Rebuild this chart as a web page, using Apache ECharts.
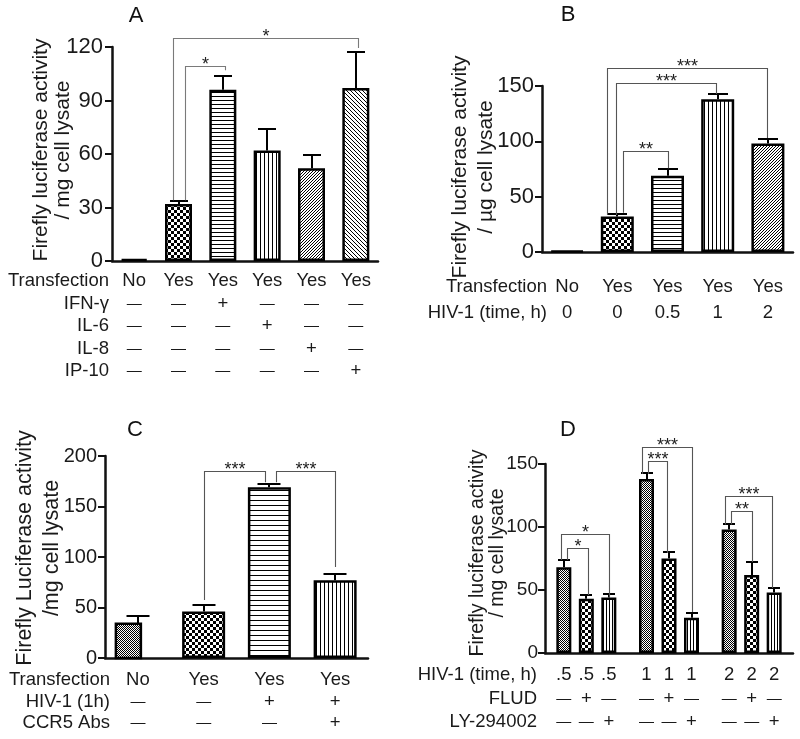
<!DOCTYPE html>
<html><head><meta charset="utf-8">
<script src="https://cdn.jsdelivr.net/npm/echarts@6/dist/echarts.min.js"></script>
<style>html,body{margin:0;padding:0;background:#fff}#c{width:800px;height:739px}</style>
</head><body><div id="c"></div>
<script>
// ---------------- Panel A ----------------
const catsA = ['No', 'Yes', 'Yes', 'Yes', 'Yes', 'Yes'];          // Transfection row
const valuesA = [1, 32, 96, 62, 52, 97];
const errorsA = [0, 1.7, 8, 12, 7.5, 20];
const ticksA = [0, 30, 60, 90, 120];
const rowLabelsA = ['Transfection', 'IFN-γ', 'IL-6', 'IL-8', 'IP-10'];
const ifnA  = ['—', '—', '+', '—', '—', '—'];
const il6A  = ['—', '—', '—', '+', '—', '—'];
const il8A  = ['—', '—', '—', '—', '+', '—'];
const ip10A = ['—', '—', '—', '—', '—', '+'];
// [fromCat, toCat, topValue, fromBottomValue, toBottomValue, label]
const bracketsA = [[1, 5, 125, 34, 119.5, '*'], [1, 2, 109.4, 34, 107, '*']];
const yTitleA = ['Firefly luciferase activity', '/ mg cell lysate'];

// ---------------- Panel B ----------------
const catsB = ['No', 'Yes', 'Yes', 'Yes', 'Yes'];
const hivTimeB = ['0', '0', '0.5', '1', '2'];
const valuesB = [1, 32, 69, 138, 98];
const errorsB = [0, 2, 6, 4.5, 4.5];
const ticksB = [0, 50, 100, 150];
const rowLabelsB = ['Transfection', 'HIV-1 (time, h)'];
const bracketsB = [[1, 4, 166, 33.4, 103, '***'], [1, 3, 152.7, 33.4, 142.8, '***'], [1, 2, 91.5, 35.5, 75.6, '**']];
const yTitleB = ['Firefly luciferase activity', '/ µg cell lysate'];

// ---------------- Panel C ----------------
const catsC = ['No', 'Yes', 'Yes', 'Yes'];
const hivC  = ['—', '—', '+', '+'];
const ccr5C = ['—', '—', '—', '+'];
const valuesC = [34, 46, 169, 77];
const errorsC = [8, 6, 3, 6];
const ticksC = [0, 50, 100, 150, 200];
const rowLabelsC = ['Transfection', 'HIV-1 (1h)', 'CCR5 Abs'];
const bracketsC = [[1, 2, 185, 57.4, 174, '***'], [2, 3, 185, 174, 90, '***']];
const yTitleC = ['Firefly Luciferase activity', '/mg cell lysate'];

// ---------------- Panel D ----------------
const groupsD = ['.5', '1', '2'];
const hivD  = ['.5', '.5', '.5', '1', '1', '1', '2', '2', '2'];
const fludD = ['—', '+', '—', '—', '+', '—', '—', '+', '—'];
const lyD   = ['—', '—', '+', '—', '—', '+', '—', '—', '+'];
const valuesCtrlD = [68, 138, 98];
const errorsCtrlD = [6, 4.5, 4];
const valuesFludD = [43, 75, 62];
const errorsFludD = [3, 5, 10];
const valuesLyD = [44, 28, 48];
const errorsLyD = [2.5, 3.7, 3.5];
const ticksD = [0, 50, 100, 150];
const rowLabelsD = ['HIV-1 (time, h)', 'FLUD', 'LY-294002'];
// [group, fromSlot, toSlot, topValue, fromBottomValue, toBottomValue, label]
const bracketsD = [[0, 0, 2, 94.4, 73.8, 44.4, '*'], [0, 0, 1, 83.3, 73.8, 46, '*'],
                   [1, 0, 2, 163.5, 142, 32.5, '***'], [1, 0, 1, 152.4, 142, 79.4, '***'],
                   [2, 0, 2, 124.6, 102, 51.6, '***'], [2, 0, 1, 112.7, 102, 72.2, '**']];
const yTitleD = ['Firefly luciferase activity', '/ mg cell lysate'];

// ---------------- styling helpers ----------------
const FONT = '"Liberation Sans", Arial, Helvetica, sans-serif';
function makeTile(w, h, fn) {
  const c = document.createElement('canvas'); c.width = w; c.height = h;
  const ctx = c.getContext('2d'); ctx.fillStyle = '#fff'; ctx.fillRect(0, 0, w, h); ctx.fillStyle = '#000';
  for (let y = 0; y < h; y++) for (let x = 0; x < w; x++) if (fn(x, y)) ctx.fillRect(x, y, 1, 1);
  return { image: c, repeat: 'repeat' };
}
const PAT = {
  checker: makeTile(6, 6, (x, y) => ((x < 3) === (y < 3))),
  fine: makeTile(2, 2, (x, y) => (x + y) % 2 === 0),
  h4: makeTile(4, 4, (x, y) => y === 0),
  h5: makeTile(5, 5, (x, y) => y === 0),
  v4: makeTile(4, 4, (x, y) => x === 0),
  v3: makeTile(3, 3, (x, y) => x === 0),
  up3: makeTile(3, 3, (x, y) => (x + y) % 3 === 0),
  down4: makeTile(4, 4, (x, y) => ((x - y) % 4 + 4) % 4 === 0)
};

const norm3 = b => ({ fc: b[0], fs: 1, tc: b[1], ts: 1, top: b[2], fb: b[3], tb: b[4], label: b[5] });
const normD = b => ({ fc: b[0], fs: b[1], tc: b[0], ts: b[2], top: b[3], fb: b[4], tb: b[5], label: b[6] });

const panels = [
  { grid: { left: 112, top: 47, width: 266, height: 214 }, cats: catsA, ticks: ticksA, tickFont: 22, margin: 9,
    bars: [{ values: valuesA, errors: errorsA, patterns: ['#fff', PAT.checker, PAT.h4, PAT.v4, PAT.up3, PAT.down4] }],
    barWidth: 27, capW: 18, slotSpacing: 0,
    brackets: bracketsA.map(norm3), legDx: [[-6, 2], [6, 2]], bracketColor: '#7a7a7a',
    rows: [catsA, ifnA, il6A, il8A, ip10A], rowLabels: rowLabelsA, rowStart: 20, rowH: 22.5, rowLabelDx: -3,
    colCat: c => c, colSlot: () => 1,
    yTitle: yTitleA, yTitleX: [41, 63], yTitleY: 150, yTitleFont: 21, letter: 'A', letterPos: [136, 16] },
  { grid: { left: 542, top: 86, width: 251, height: 166 }, cats: catsB, ticks: ticksB, tickFont: 22, margin: 8,
    bars: [{ values: valuesB, errors: errorsB, patterns: ['#fff', PAT.checker, PAT.h4, PAT.v4, PAT.up3] }],
    barWidth: 33, capW: 20, slotSpacing: 0,
    brackets: bracketsB.map(norm3), legDx: [[-10, -1], [-1, -2], [6, 0]], bracketColor: '#555',
    rows: [catsB, hivTimeB], rowLabels: rowLabelsB, rowStart: 35, rowH: 26, rowLabelDx: 5,
    colCat: c => c, colSlot: () => 1,
    yTitle: yTitleB, yTitleX: [460, 486], yTitleY: 167, yTitleFont: 21, letter: 'B', letterPos: [568, 15] },
  { grid: { left: 105, top: 456, width: 263, height: 202 }, cats: catsC, ticks: ticksC, tickFont: 20, margin: 8,
    bars: [{ values: valuesC, errors: errorsC, patterns: [PAT.fine, PAT.checker, PAT.h5, PAT.v4], customFirst: { w: 25, dx: -9.5 } }],
    barWidth: 43, capW: 23, slotSpacing: 0,
    brackets: bracketsC.map(norm3), legDx: [[0, -4], [7, 0]], bracketColor: '#555',
    rows: [catsC, hivC, ccr5C], rowLabels: rowLabelsC, rowStart: 22, rowH: 21.5, rowLabelDx: 5,
    colCat: c => c, colSlot: () => 1,
    yTitle: yTitleC, yTitleX: [25, 52], yTitleY: 548, yTitleFont: 21.5, letter: 'C', letterPos: [135, 430] },
  { grid: { left: 545, top: 464, width: 248, height: 189 }, cats: groupsD, ticks: ticksD, tickFont: 19, margin: 7,
    bars: [{ values: valuesCtrlD, errors: errorsCtrlD, patterns: [PAT.fine, PAT.fine, PAT.fine] },
           { values: valuesFludD, errors: errorsFludD, patterns: [PAT.checker, PAT.checker, PAT.checker] },
           { values: valuesLyD, errors: errorsLyD, patterns: [PAT.v3, PAT.v3, PAT.v3] }],
    barWidth: 15, barGap: '50%', capW: 12, slotSpacing: 22.5,
    brackets: bracketsD.map(normD), legDx: [[-3, 0], [3, 2], [-5, 0], [1, -2], [-4, -2], [2, 0]], bracketColor: '#555',
    rows: [hivD, fludD, lyD], rowLabels: rowLabelsD, rowStart: 22, rowH: 23.5, rowLabelDx: -8,
    colCat: c => Math.floor(c / 3), colSlot: c => c % 3,
    yTitle: yTitleD, yTitleX: [478, 498], yTitleY: 553, yTitleFont: 19.5, letter: 'D', letterPos: [568, 430] }
];

const option = { animation: false, backgroundColor: '#fff', grid: [], xAxis: [], yAxis: [], series: [], graphic: [] };

panels.forEach((p, pi) => {
  const slotDx = s => (s - 1) * p.slotSpacing;
  option.grid.push(Object.assign({ containLabel: false, outerBoundsMode: 'none' }, p.grid));
  option.xAxis.push({ gridIndex: pi, type: 'category', data: p.cats,
    axisLine: { show: true, lineStyle: { color: '#111', width: 2.5 } },
    axisTick: { show: false }, axisLabel: { show: false }, splitLine: { show: false } });
  option.yAxis.push({ gridIndex: pi, type: 'value', min: p.ticks[0], max: p.ticks[p.ticks.length - 1],
    interval: p.ticks[1] - p.ticks[0],
    axisLine: { show: true, onZero: false, lineStyle: { color: '#111', width: 2.5 } },
    axisTick: { show: true, length: 7, lineStyle: { color: '#111', width: 2 } },
    axisLabel: { fontSize: p.tickFont, fontFamily: FONT, color: '#1a1a1a', margin: p.margin },
    splitLine: { show: false } });

  p.bars.forEach((b, si) => {
    const slot = p.bars.length === 1 ? 1 : si;
    const dx = slotDx(slot);
    option.series.push({ type: 'bar', xAxisIndex: pi, yAxisIndex: pi, barWidth: p.barWidth,
      barGap: p.barGap || '30%', silent: true, z: 2,
      itemStyle: { borderColor: '#000', borderWidth: 2.5 },
      data: b.values.map((v, i) => (b.customFirst && i === 0) ? '-' : { value: v, itemStyle: { color: b.patterns[i] } }) });
    if (b.customFirst) {
      const cf = b.customFirst;
      option.series.push({ type: 'custom', xAxisIndex: pi, yAxisIndex: pi, silent: true, z: 2,
        data: [[0, b.values[0]]],
        renderItem: (params, api) => {
          const top = api.coord([api.value(0), api.value(1)]);
          const base = api.coord([api.value(0), 0]);
          return { type: 'rect', shape: { x: top[0] + cf.dx - cf.w / 2, y: top[1], width: cf.w, height: base[1] - top[1] },
            style: { fill: b.patterns[0], stroke: '#000', lineWidth: 2.5 } };
        } });
    }
    option.series.push({ type: 'custom', xAxisIndex: pi, yAxisIndex: pi, silent: true, z: 3,
      data: b.values.map((v, i) => [i, v, b.errors[i]]),
      renderItem: (params, api) => {
        const i = api.value(0), v = api.value(1), e = api.value(2);
        if (!e) return null;
        const x = Math.round(api.coord([i, 0])[0] + dx);
        const y0 = api.coord([i, v])[1], y1 = Math.round(api.coord([i, v + e])[1]);
        return { type: 'group', children: [
          { type: 'line', shape: { x1: x, y1: y0, x2: x, y2: y1 }, style: { stroke: '#000', lineWidth: 2 } },
          { type: 'line', shape: { x1: x - p.capW / 2, y1: y1, x2: x + p.capW / 2, y2: y1 }, style: { stroke: '#000', lineWidth: 2 } }
        ] };
      } });
  });

  // significance brackets
  option.series.push({ type: 'custom', xAxisIndex: pi, yAxisIndex: pi, silent: true, z: 4,
    data: p.brackets.map(b => [b.fc, b.top]),
    renderItem: (params, api) => {
      const b = p.brackets[params.dataIndex], off = p.legDx[params.dataIndex];
      const xf = Math.round(api.coord([b.fc, 0])[0] + slotDx(b.fs) + off[0]) + 0.5;
      const xt = Math.round(api.coord([b.tc, 0])[0] + slotDx(b.ts) + off[1]) + 0.5;
      const yt = Math.round(api.coord([0, b.top])[1]) + 0.5;
      const yf = api.coord([0, b.fb])[1], ytb = api.coord([0, b.tb])[1];
      return { type: 'group', children: [
        { type: 'polyline', shape: { points: [[xf, yf], [xf, yt], [xt, yt], [xt, ytb]] },
          style: { stroke: p.bracketColor, lineWidth: 1.1, fill: null } },
        { type: 'text', x: (xf + xt) / 2, y: yt - 1,
          style: { text: b.label, fontSize: 18, fontFamily: FONT, fill: '#222', align: 'center', verticalAlign: 'middle' } }
      ] };
    } });

  // condition table under the axis
  const cells = [];
  p.rows.forEach((row, r) => {
    cells.push({ c: -1, r, text: p.rowLabels[r] });
    row.forEach((t, c) => cells.push({ c, r, text: t }));
  });
  option.series.push({ type: 'custom', xAxisIndex: pi, yAxisIndex: pi, silent: true, z: 5,
    data: cells.map(cell => [cell.c < 0 ? 0 : p.colCat(cell.c), 0]),
    renderItem: (params, api) => {
      const cell = cells[params.dataIndex];
      const base = api.coord([0, 0]);
      const y = base[1] + p.rowStart + cell.r * p.rowH;
      let x, align;
      if (cell.c < 0) { x = params.coordSys.x + p.rowLabelDx; align = 'right'; }
      else { x = api.coord([p.colCat(cell.c), 0])[0] + slotDx(p.colSlot(cell.c)); align = 'center'; }
      const isDash = cell.text === '—';
      return { type: 'text', x, y,
        style: { text: cell.text, fontSize: isDash ? 15 : 18.5, fontFamily: FONT, fill: '#1a1a1a', align, verticalAlign: 'middle' } };
    } });

  // panel letter and y-axis title
  option.graphic.push({ type: 'text', x: p.letterPos[0], y: p.letterPos[1], silent: true,
    style: { text: p.letter, fontSize: 22, fontFamily: FONT, fill: '#111', align: 'center', verticalAlign: 'middle' } });
  p.yTitle.forEach((t, k) => option.graphic.push({ type: 'text', x: p.yTitleX[k], y: p.yTitleY, rotation: Math.PI / 2, silent: true,
    style: { text: t, fontSize: p.yTitleFont, fontFamily: FONT, fill: '#1a1a1a', align: 'center', verticalAlign: 'middle' } }));
});

const chart = echarts.init(document.getElementById('c'), null, { renderer: 'canvas' });
chart.setOption(option);
</script>
</body></html>
